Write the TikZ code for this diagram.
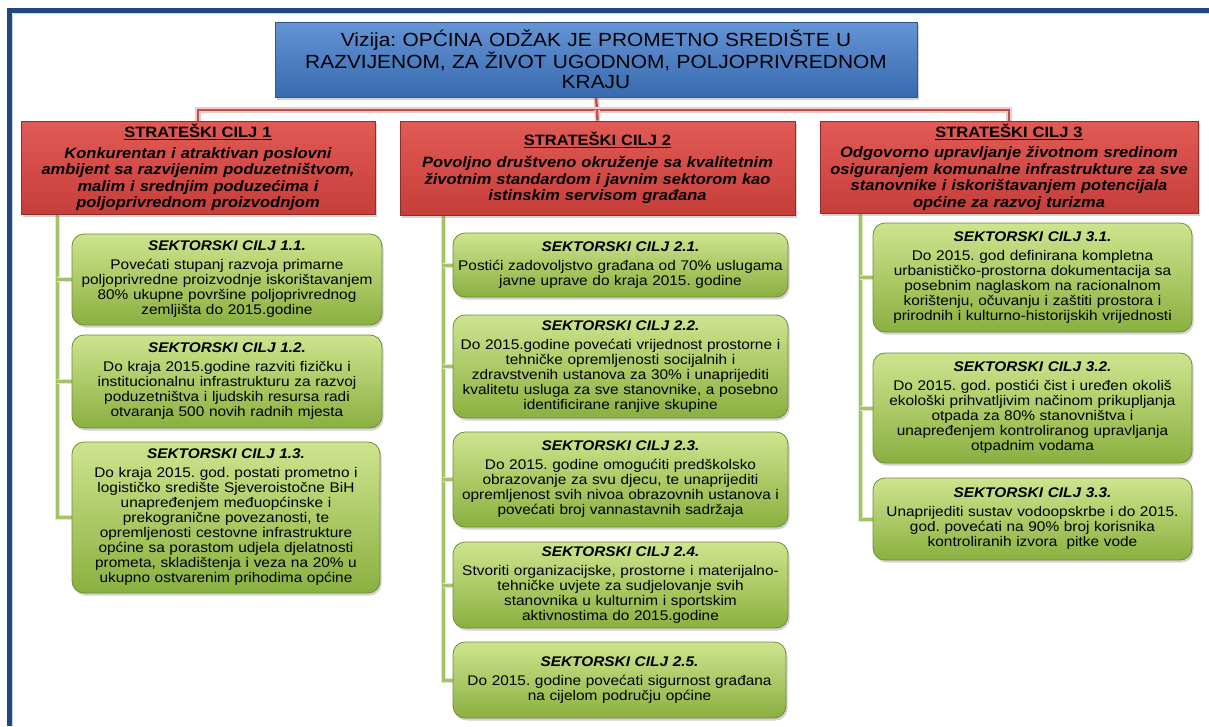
\documentclass[tikz,border=0pt]{standalone}
\usepackage{fontspec}
\setmainfont[FakeStretch=1.1]{Liberation Sans}
\usetikzlibrary{shadows,backgrounds}
\definecolor{frameblue}{RGB}{31,73,125}
\definecolor{frameedge}{RGB}{200,214,232}
\definecolor{blueTop}{RGB}{100,148,212}
\definecolor{blueBot}{RGB}{56,106,176}
\definecolor{blueLine}{RGB}{52,88,134}
\definecolor{redTop}{RGB}{224,90,86}
\definecolor{redBot}{RGB}{198,62,58}
\definecolor{redLine}{RGB}{140,46,44}
\definecolor{greenTop}{RGB}{206,228,142}
\definecolor{greenMid}{RGB}{166,200,90}
\definecolor{greenBot}{RGB}{138,176,64}
\definecolor{greenLine}{RGB}{112,140,56}
\definecolor{linkRed}{RGB}{192,80,77}
\definecolor{linkRedHalo}{RGB}{236,204,203}
\definecolor{linkGreen}{RGB}{164,194,104}
\definecolor{linkGreenHalo}{RGB}{222,233,200}
\begin{document}
\frenchspacing
\begin{tikzpicture}[x=1pt,y=-1pt,
  shad/.style={drop shadow={shadow xshift=1.5pt,shadow yshift=-2.5pt,opacity=0.35}},
  visionbox/.style={shad,draw=blueLine,line width=0.8pt,top color=blueTop,bottom color=blueBot,
    inner sep=0pt,align=center,font=\fontsize{19}{20}\selectfont},
  redbox/.style={shad,draw=redLine,line width=0.8pt,top color=redTop,bottom color=redBot,
    inner sep=0pt,align=center,font=\fontsize{15}{16.5}\selectfont\bfseries},
  greenbox/.style={shad,draw=greenLine,line width=0.8pt,rounded corners=12pt,
    top color=greenTop,middle color=greenMid,bottom color=greenBot,
    inner sep=0pt,align=center,font=\fontsize{14}{15}\selectfont},
  redlink/.style={line width=2.4pt,draw=linkRed,preaction={draw=linkRedHalo,line width=5.5pt}},
  greenlink/.style={line width=3pt,draw=linkGreen,preaction={draw=linkGreenHalo,line width=5pt}}
]
\useasboundingbox (0,0) rectangle (1209,726);
% frame
\fill[frameblue] (7,8) rectangle (1209,13);
\fill[frameblue] (7,8) rectangle (12,726);
\draw[frameedge,line width=1pt] (12.5,13.5) -- (1209,13.5);
\draw[frameedge,line width=1pt] (12.5,13.5) -- (12.5,726);

% vision
\node[visionbox,minimum width=642pt,minimum height=75pt,text width=636pt] (vis) at (596,59.5)
 {Vizija: OPĆINA ODŽAK JE PROMETNO SREDIŠTE U\\RAZVIJENOM, ZA ŽIVOT UGODNOM, POLJOPRIVREDNOM\\KRAJU};

% strategic goals
\node[redbox,minimum width=354pt,minimum height=93pt,text width=350pt] (sc1) at (198,167.5)
 {\underline{STRATEŠKI CILJ 1}\\[4pt]\itshape Konkurentan i atraktivan poslovni\\ambijent sa razvijenim poduzetništvom,\\malim i srednjim poduzećima i\\poljoprivrednom proizvodnjom};
\node[redbox,minimum width=395pt,minimum height=94pt,text width=391pt] (sc2) at (597.5,168)
 {\underline{STRATEŠKI CILJ 2}\\[6pt]\itshape Povoljno društveno okruženje sa kvalitetnim\\životnim standardom i javnim sektorom kao\\istinskim servisom građana};
\node[redbox,minimum width=378pt,minimum height=92pt,text width=376pt] (sc3) at (1009,167)
 {\underline{STRATEŠKI CILJ 3}\\[4pt]\itshape Odgovorno upravljanje životnom sredinom\\osiguranjem komunalne infrastrukture za sve\\stanovnike i iskorištavanjem potencijala\\općine za razvoj turizma};

% sector goals column 1
\node[greenbox,minimum width=310pt,minimum height=91pt,text width=304pt] (g11) at (227,279.5)
 {\textbf{\textit{SEKTORSKI CILJ 1.1.}}\\[4pt]Povećati stupanj razvoja primarne\\poljoprivredne proizvodnje iskorištavanjem\\80\% ukupne površine poljoprivrednog\\zemljišta do 2015.godine};
\node[greenbox,minimum width=310pt,minimum height=93pt,text width=304pt] (g12) at (227,381.5)
 {\textbf{\textit{SEKTORSKI CILJ 1.2.}}\\[4pt]Do kraja 2015.godine razviti fizičku i\\institucionalnu infrastrukturu za razvoj\\poduzetništva i ljudskih resursa radi\\otvaranja 500 novih radnih mjesta};
\node[greenbox,minimum width=308pt,minimum height=151pt,text width=302pt] (g13) at (226,517.5)
 {\textbf{\textit{SEKTORSKI CILJ 1.3.}}\\[4pt]Do kraja 2015. god. postati prometno i\\logističko središte Sjeveroistočne BiH\\unapređenjem međuopćinske i\\prekogranične povezanosti, te\\opremljenosti cestovne infrastrukture\\općine sa porastom udjela djelatnosti\\prometa, skladištenja i veza na 20\% u\\ukupno ostvarenim prihodima općine};

% column 2
\node[greenbox,minimum width=335pt,minimum height=64pt,text width=331pt] (g21) at (620.5,265)
 {\textbf{\textit{SEKTORSKI CILJ 2.1.}}\\[4pt]Postići zadovoljstvo građana od 70\% uslugama\\javne uprave do kraja 2015. godine};
\node[greenbox,minimum width=335pt,minimum height=103pt,text width=331pt] (g22) at (620.5,366.5)
 {\textbf{\textit{SEKTORSKI CILJ 2.2.}}\\[4pt]Do 2015.godine povećati vrijednost prostorne i\\tehničke opremljenosti socijalnih i\\zdravstvenih ustanova za 30\% i unaprijediti\\kvalitetu usluga za sve stanovnike, a posebno\\identificirane ranjive skupine};
\node[greenbox,minimum width=335pt,minimum height=95pt,text width=331pt] (g23) at (620.5,479.5)
 {\textbf{\textit{SEKTORSKI CILJ 2.3.}}\\[4pt]Do 2015. godine omogućiti predškolsko\\obrazovanje za svu djecu, te unaprijediti\\opremljenost svih nivoa obrazovnih ustanova i\\povećati broj vannastavnih sadržaja};
\node[greenbox,minimum width=335pt,minimum height=86pt,text width=331pt] (g24) at (620.5,585)
 {\textbf{\textit{SEKTORSKI CILJ 2.4.}}\\[4pt]Stvoriti organizacijske, prostorne i materijalno-\\tehničke uvjete za sudjelovanje svih\\stanovnika u kulturnim i sportskim\\aktivnostima do 2015.godine};
\node[greenbox,minimum width=333pt,minimum height=76pt,text width=329pt] (g25) at (619.5,680)
 {\textbf{\textit{SEKTORSKI CILJ 2.5.}}\\[4pt]Do 2015. godine povećati sigurnost građana\\na cijelom području općine};

% column 3
\node[greenbox,minimum width=319pt,minimum height=109pt,text width=315pt] (g31) at (1032.5,277.5)
 {\textbf{\textit{SEKTORSKI CILJ 3.1.}}\\[4pt]Do 2015. god definirana kompletna\\urbanističko-prostorna dokumentacija sa\\posebnim naglaskom na racionalnom\\korištenju, očuvanju i zaštiti prostora i\\prirodnih i kulturno-historijskih vrijednosti};
\node[greenbox,minimum width=319pt,minimum height=110pt,text width=315pt] (g32) at (1032.5,408)
 {\textbf{\textit{SEKTORSKI CILJ 3.2.}}\\[4pt]Do 2015. god. postići čist i uređen okoliš\\ekološki prihvatljivim načinom prikupljanja\\otpada za 80\% stanovništva i\\unapređenjem kontroliranog upravljanja\\otpadnim vodama};
\node[greenbox,minimum width=319pt,minimum height=82pt,text width=315pt] (g33) at (1032.5,519)
 {\textbf{\textit{SEKTORSKI CILJ 3.3.}}\\[4pt]Unaprijediti sustav vodoopskrbe i do 2015.\\god. povećati na 90\% broj korisnika\\kontroliranih izvora\ \ pitke vode};

% connectors
\coordinate (bus) at (597,110);
\coordinate (tk1) at (57,0);
\coordinate (tk2) at (443,0);
\coordinate (tk3) at (860,0);
\begin{scope}[on background layer]
\draw[redlink] (vis.south) -- (bus);
\draw[redlink] (sc1.north) |- (bus) -| (sc3.north);
\draw[redlink] (bus) -- (sc2.north);
\draw[greenlink] (sc1.south -| tk1) |- (g13.west);
\draw[greenlink] (tk1 |- g11.west) -- (g11.west);
\draw[greenlink] (tk1 |- g12.west) -- (g12.west);
\draw[greenlink] (sc2.south -| tk2) |- (g25.west);
\draw[greenlink] (tk2 |- g21.west) -- (g21.west);
\draw[greenlink] (tk2 |- g22.west) -- (g22.west);
\draw[greenlink] (tk2 |- g23.west) -- (g23.west);
\draw[greenlink] (tk2 |- g24.west) -- (g24.west);
\draw[greenlink] (sc3.south -| tk3) |- (g33.west);
\draw[greenlink] (tk3 |- g31.west) -- (g31.west);
\draw[greenlink] (tk3 |- g32.west) -- (g32.west);
\end{scope}
\end{tikzpicture}
\end{document}
